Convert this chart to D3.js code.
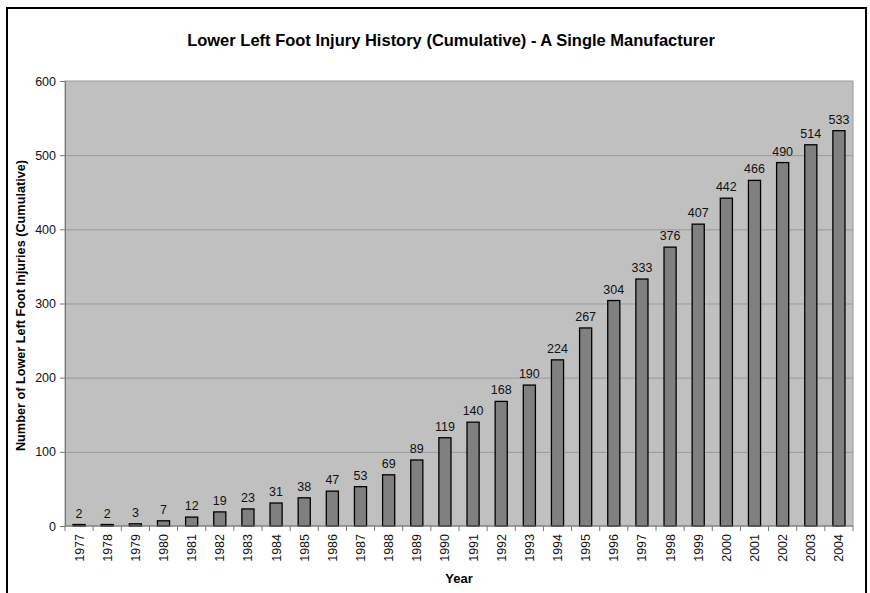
<!DOCTYPE html>
<html>
<head>
<meta charset="utf-8">
<script src="https://cdn.jsdelivr.net/npm/d3@7"></script>
<style>
  body { margin: 0; background: #fff; }
  text { font-family: "Liberation Sans", Arial, sans-serif; }
</style>
</head>
<body>
<script>
'use strict'

// chart data
const years = ['1977', '1978', '1979', '1980', '1981', '1982', '1983', '1984', '1985', '1986',
    '1987', '1988', '1989', '1990', '1991', '1992', '1993', '1994', '1995', '1996',
    '1997', '1998', '1999', '2000', '2001', '2002', '2003', '2004']
const injuries = [2, 2, 3, 7, 12, 19, 23, 31, 38, 47, 53, 69, 89, 119, 140, 168, 190, 224,
    267, 304, 333, 376, 407, 442, 466, 490, 514, 533]
const yTicks = [0, 100, 200, 300, 400, 500, 600]

const width = 870, height = 593
const margin = { top: 81, right: 17, bottom: 67, left: 65 }

const svg = d3.select('body').append('svg')
    .attr('width', width)
    .attr('height', height)

// outer frame (bottom edge runs off the picture)
svg.append('path')
    .attr('d', `M7,${height + 2} V8 H866 V${height + 2}`)
    .attr('fill', 'none')
    .attr('stroke', '#000')
    .attr('stroke-width', 2)

const x = d3.scaleBand()
    .domain(years)
    .range([margin.left, width - margin.right])
    .paddingInner(0.57)
    .paddingOuter(0.285)

const y = d3.scaleLinear()
    .domain([0, 600])
    .range([height - margin.bottom, margin.top])

// plot area
svg.append('rect')
    .attr('x', margin.left)
    .attr('y', margin.top)
    .attr('width', width - margin.left - margin.right)
    .attr('height', height - margin.top - margin.bottom)
    .attr('fill', '#c0c0c0')
    .attr('stroke', '#9a9a9a')

// gridlines
svg.append('g')
    .selectAll('line')
    .data(yTicks.slice(1, -1))
    .enter()
    .append('line')
    .attr('x1', margin.left)
    .attr('x2', width - margin.right)
    .attr('y1', d => y(d) + 0.5)
    .attr('y2', d => y(d) + 0.5)
    .attr('stroke', '#999')

// bars
svg.append('g')
    .selectAll('rect')
    .data(injuries)
    .enter()
    .append('rect')
    .attr('x', (d, i) => x(years[i]))
    .attr('y', d => y(d))
    .attr('width', x.bandwidth())
    .attr('height', d => y(0) - y(d))
    .attr('fill', '#808080')
    .attr('stroke', '#000')
    .attr('stroke-width', 1.3)

// value labels
svg.append('g')
    .selectAll('text')
    .data(injuries)
    .enter()
    .append('text')
    .attr('x', (d, i) => x(years[i]) + x.bandwidth() / 2)
    .attr('y', d => y(d) - 7)
    .attr('text-anchor', 'middle')
    .attr('font-size', 12.5)
    .attr('fill', '#111')
    .text(d => d)

// y axis
const yAxis = svg.append('g')
    .attr('transform', `translate(${margin.left},0)`)
    .call(d3.axisLeft(y).tickValues(yTicks).tickSize(5).tickPadding(4))
yAxis.select('.domain').attr('stroke', '#777')
yAxis.selectAll('.tick line').attr('stroke', '#777')
yAxis.selectAll('.tick text').attr('font-size', 12.5).attr('fill', '#111')
    .style('font-family', '"Liberation Sans", Arial, sans-serif')

// x axis (ticks sit between bars)
const xAxis = svg.append('g')
    .attr('transform', `translate(0,${height - margin.bottom})`)
xAxis.append('line')
    .attr('x1', margin.left)
    .attr('x2', width - margin.right)
    .attr('stroke', '#777')
xAxis.selectAll('line.sep')
    .data(d3.range(years.length + 1))
    .enter()
    .append('line')
    .attr('class', 'sep')
    .attr('x1', i => margin.left + i * x.step())
    .attr('x2', i => margin.left + i * x.step())
    .attr('y2', 5)
    .attr('stroke', '#777')
xAxis.selectAll('text')
    .data(years)
    .enter()
    .append('text')
    .attr('transform', d => `translate(${x(d) + x.bandwidth() / 2 + 4.5},8) rotate(-90)`)
    .attr('text-anchor', 'end')
    .attr('font-size', 12.5)
    .attr('fill', '#111')
    .text(d => d)

// titles
svg.append('text')
    .attr('x', 451)
    .attr('y', 46)
    .attr('text-anchor', 'middle')
    .attr('font-size', 16.5)
    .attr('font-weight', 'bold')
    .text('Lower Left Foot Injury History (Cumulative) - A Single Manufacturer')

svg.append('text')
    .attr('x', 459)
    .attr('y', 583)
    .attr('text-anchor', 'middle')
    .attr('font-size', 13)
    .attr('font-weight', 'bold')
    .text('Year')

svg.append('text')
    .attr('transform', `translate(25,${(margin.top + height - margin.bottom) / 2 + 2}) rotate(-90)`)
    .attr('text-anchor', 'middle')
    .attr('font-size', 12.7)
    .attr('font-weight', 'bold')
    .text('Number of Lower Left Foot Injuries (Cumulative)')
</script>
</body>
</html>
